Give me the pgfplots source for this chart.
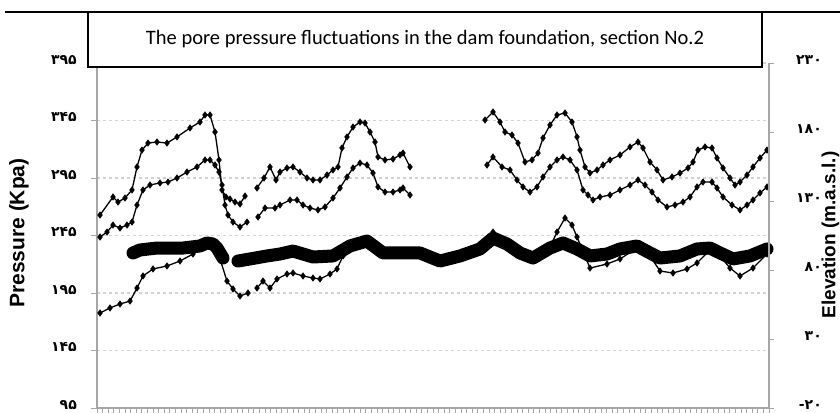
\documentclass[border=0pt]{standalone}
\usepackage{pgfplots}
\pgfplotsset{compat=1.18}
\usepackage{fontspec}
\setmainfont{Liberation Sans}
\newfontfamily\titlefont{Carlito}
\newfontfamily\fa{DejaVu Sans}

% pixel positions of the scanned chart: 1px = 1pt, origin bottom left
\begin{document}
\begin{tikzpicture}[x=1pt,y=1pt]
\begin{axis}[
  at={(97pt,4pt)}, anchor=south west,
  scale only axis, width=672pt, height=345pt,
  xmin=0, xmax=672, ymin=95, ymax=395,
  axis x line*=bottom, axis y line*=left,
  axis line style={gray!70, line width=1.2pt},
  xtick distance=5.6, xticklabels={},
  ytick={95,145,195,245,295,345,395},
  yticklabels={۹۵,۱۴۵,۱۹۵,۲۴۵,۲۹۵,۳۴۵,۳۹۵},
  yticklabel style={font=\fa\bfseries\fontsize{14}{14}\selectfont, anchor=east, inner sep=0pt, xshift=-14pt, yshift=3pt},
  tick align=outside, major tick length=6pt,
  tick style={gray!70, line width=0.8pt},
  ymajorgrids, grid style={gray!35, dashed, line width=1.3pt},
  unbounded coords=jump, clip=false,
]
% lower thin series
\addplot[black, line width=1.3pt, mark=diamond*, mark size=2.6pt] coordinates {
(3,177.6) (13,182.0) (23,185.4) (33,188.0) (40,199.3) (46,209.8) (56,215.9) (70,218.5) (83,222.8) (96,228.9) (110,237.6) (118,234.1) (123,224.6) (130,205.4) (136,198.5) (143,192.4) (151,195.0)
(155,nan)
(160,199.3) (166,205.4) (173,199.3) (180,207.2) (190,211.5) (196,212.4) (206,209.8) (216,208.0) (223,207.2) (233,211.5) (240,215.9) (246,227.2) (253,234.1) (270,238.5) (286,228.9) (303,228.0) (323,227.2) (343,222.0) (363,226.3) (383,232.4) (396,248.0) (410,236.8) (423,228.0) (436,224.6) (453,235.0) (460,248.0) (468,260.2) (475,254.1) (480,243.7) (493,216.7) (510,220.2) (523,224.6) (540,234.1) (553,227.2) (563,214.1) (576,212.4) (590,215.9) (600,221.1) (613,232.4) (623,227.2) (633,216.7) (643,209.8) (656,216.7) (670,228.9)
};
% thick band
\addplot[black, line width=13pt, line join=round, line cap=round] coordinates {
(36,229.8) (43,232.4) (60,234.1) (86,234.1) (103,235.9) (110,238.5) (116,237.6) (120,234.1) (126,225.4)
(133,nan)
(141,222.8) (153,224.6) (170,227.2) (183,228.9) (196,231.5) (206,228.9) (216,226.3) (236,227.2) (253,235.9) (270,240.2) (286,229.8) (303,229.8) (323,229.8) (343,222.8) (363,227.2) (383,233.3) (396,242.8) (410,237.6) (423,229.8) (436,225.4) (453,234.1) (466,238.5) (480,233.3) (493,227.2) (510,228.9) (523,233.3) (540,235.9) (553,229.8) (563,225.4) (583,227.2) (600,233.3) (613,234.1) (623,229.8) (636,224.6) (653,227.2) (670,233.3)
};
% second thin series
\addplot[black, line width=1.3pt, mark=diamond*, mark size=2.6pt] coordinates {
(3,243.7) (10,248.0) (16,254.1) (23,251.5) (30,254.1) (35,256.7) (40,271.5) (46,284.6) (53,288.9) (63,290.7) (71,291.5) (80,295.0) (90,300.2) (100,304.6) (108,310.7) (113,310.7) (118,306.3) (122,300.2) (125,288.9) (128,271.5) (131,262.8) (136,256.7) (143,252.4) (150,256.7)
(155,nan)
(161,261.1) (168,268.9) (178,268.9) (183,271.5) (193,275.9) (200,275.9) (206,271.5) (213,268.9) (221,267.2) (228,269.8) (236,277.6) (243,286.3) (250,295.9) (256,303.7) (263,308.0) (270,306.3) (276,299.3) (281,287.2) (288,282.8) (296,282.8) (303,284.6) (306,286.3) (313,280.2)
(350,nan)
(390,306.3) (396,313.3) (405,304.6) (413,302.0) (420,293.3) (426,287.2) (433,282.8) (440,287.2) (446,295.9) (453,304.6) (460,310.7) (466,313.3) (473,310.7) (480,302.0) (486,284.6) (491,280.2) (496,275.9) (503,278.5) (513,280.2) (523,284.6) (533,288.9) (541,293.3) (548,288.9) (555,282.8) (561,275.9) (570,269.8) (578,271.5) (586,274.1) (593,278.5) (600,287.2) (606,291.5) (615,291.5) (620,286.3) (626,278.5) (635,271.5) (643,267.2) (650,271.5) (656,275.9) (663,282.0) (670,287.2)
};
% top thin series
\addplot[black, line width=1.3pt, mark=diamond*, mark size=2.6pt] coordinates {
(3,262.8) (16,278.5) (21,274.1) (28,277.6) (35,284.6) (40,304.6) (45,319.3) (51,325.4) (60,326.3) (70,325.4) (80,330.7) (93,338.5) (103,343.7) (108,349.8) (113,349.8) (118,335.0) (122,310.7) (125,284.6) (129,278.5) (133,276.7) (138,274.1) (143,272.4) (148,279.3)
(155,nan)
(160,286.3) (167,295.0) (173,304.6) (179,293.3) (183,300.2) (190,303.7) (196,304.6) (203,300.2) (210,295.0) (216,293.3) (223,293.3) (230,297.6) (236,302.0) (241,304.6) (245,321.1) (250,330.7) (256,339.3) (263,343.7) (268,342.8) (273,335.0) (278,326.3) (281,313.3) (288,310.7) (296,311.5) (303,315.0) (306,316.7) (313,304.6)
(350,nan)
(388,345.4) (396,352.4) (403,343.7) (408,335.0) (415,332.4) (421,325.4) (428,308.9) (435,310.7) (441,316.7) (446,329.8) (453,341.1) (460,349.8) (468,351.5) (475,343.7) (480,330.7) (483,319.3) (488,304.6) (493,299.3) (500,302.0) (506,306.3) (513,310.7) (523,315.0) (533,322.0) (541,326.3) (546,321.1) (553,308.9) (560,302.0) (566,293.3) (575,295.9) (583,299.3) (591,303.7) (596,308.9) (601,319.3) (608,322.0) (615,321.1) (620,312.4) (626,303.7) (633,295.0) (638,288.9) (643,291.5) (650,297.6) (656,304.6) (663,312.4) (670,319.3)
};
\end{axis}
\begin{axis}[
  at={(97pt,4pt)}, anchor=south west,
  scale only axis, width=672pt, height=345pt,
  xmin=0, xmax=672, ymin=-20, ymax=230,
  axis x line=none, axis y line*=right,
  axis line style={gray!70, line width=1.2pt},
  ytick={-20,30,80,130,180,230},
  yticklabels={-۲۰,۳۰,۸۰,۱۳۰,۱۸۰,۲۳۰},
  yticklabel style={font=\fa\bfseries\fontsize{14}{14}\selectfont, anchor=east, inner sep=0pt, xshift=48pt, yshift=3pt},
  tick align=outside, major tick length=5pt,
  tick style={gray!70, line width=0.8pt},
]
\addplot[draw=none] coordinates {(0,0)};
\end{axis}
\node[rotate=90, anchor=south, inner sep=0pt, font=\bfseries\fontsize{21}{21}\selectfont] at (29,179) {Pressure (Kpa)};
\node[rotate=90, anchor=south, inner sep=0pt, font=\bfseries\fontsize{19}{19}\selectfont] at (839.5,177) {Elevation (m.a.s.l.)};
\draw[black, line width=1.2pt] (5,400) -- (840,400);
\draw[black, line width=2pt, fill=white] (88,400) rectangle (762,345);
\node[font=\titlefont\fontsize{20.5}{20.5}\selectfont] at (425,373) {The pore pressure fluctuations in the dam foundation, section No.2};
\pgfresetboundingbox
\path[use as bounding box] (0,0) rectangle (840,412);
\end{tikzpicture}
\end{document}
